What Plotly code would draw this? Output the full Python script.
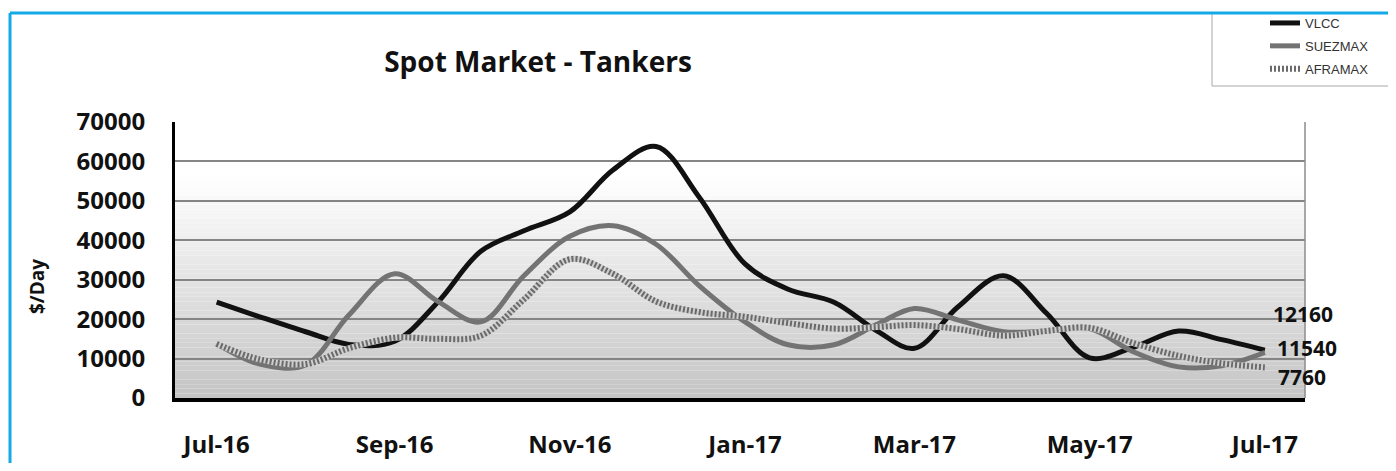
import plotly.graph_objects as go

# ---- data (semi-monthly observations, $/day) ----
DATES = [
    "2016-07-01", "2016-07-16", "2016-08-01", "2016-08-16", "2016-09-01", "2016-09-16",
    "2016-10-01", "2016-10-16", "2016-11-01", "2016-11-16", "2016-12-01", "2016-12-16",
    "2017-01-01", "2017-01-16", "2017-02-01", "2017-02-16", "2017-03-01", "2017-03-16",
    "2017-04-01", "2017-04-16", "2017-05-01", "2017-05-16", "2017-06-01", "2017-06-16",
    "2017-07-01",
]
VLCC = [24300, 20600, 16800, 13600, 14400, 24300, 37200, 42400, 47200, 57800, 63800, 51000,
        34000, 27600, 24300, 17000, 12600, 23000, 31000, 21500, 10200, 12800, 17000, 14800,
        12160]
SUEZMAX = [13800, 8600, 8400, 21000, 31500, 24500, 19300, 31000, 41000, 43700, 39000, 28500,
           19300, 13500, 13500, 18700, 22700, 19800, 16800, 17000, 17600, 11800, 7900, 8200,
           11540]
AFRAMAX = [13700, 9800, 8600, 12600, 15300, 15000, 15800, 25000, 35200, 31500, 24500, 21800,
           20600, 19000, 17600, 18000, 18500, 17500, 15800, 17000, 17800, 14000, 10700, 8800,
           7760]
TICK_DATES = ["2016-07-01", "2016-09-01", "2016-11-01", "2017-01-01", "2017-03-01",
              "2017-05-01", "2017-07-01"]
TICK_LABELS = ["Jul-16", "Sep-16", "Nov-16", "Jan-17", "Mar-17", "May-17", "Jul-17"]
Y_TICKS = [0, 10000, 20000, 30000, 40000, 50000, 60000, 70000]

OFF = 8  # page body margin
W, H = 1396 - 2 * OFF, 471 - 2 * OFF
PL, PR, PT, PB = 175 - OFF, 1305 - OFF, 122 - OFF, 398 - OFF  # plot box in figure px
ML, MR, MT, MB = PL, W - PR, PT, H - PB
PW, PH = PR - PL, PB - PT


def px_x(p):  # page px -> paper
    return (p - OFF - PL) / PW


def px_y(p):
    return (PB - (p - OFF)) / PH


fig = go.Figure()

fig.add_trace(go.Scatter(
    x=DATES, y=VLCC, name="VLCC", mode="lines", legendgroup="a",
    line=dict(color="#111111", width=5, shape="spline", smoothing=1.0),
))
fig.add_trace(go.Scatter(
    x=DATES, y=SUEZMAX, name="SUEZMAX", mode="lines", legendgroup="b",
    line=dict(color="#737373", width=5, shape="spline", smoothing=1.0),
))
fig.add_trace(go.Scatter(
    x=DATES, y=AFRAMAX, name="AFRAMAX_base", mode="lines", showlegend=False,
    line=dict(color="#cfcfcf", width=6, shape="spline", smoothing=1.0), hoverinfo="skip",
))
fig.add_trace(go.Scatter(
    x=DATES, y=AFRAMAX, name="AFRAMAX", mode="lines", legendgroup="c",
    line=dict(color="#6a6a6a", width=6, shape="spline", smoothing=1.0, dash="2px,2px"),
))

shapes = []
# gradient plot background
N = 60
for i in range(N):
    t0, t1 = i / N, (i + 1) / N
    tm = (t0 + t1) / 2
    g = int(round(196 + 59 * min(1.0, tm / 0.8)))
    shapes.append(dict(type="rect", xref="paper", yref="paper", x0=0, x1=1, y0=t0, y1=t1,
                       fillcolor=f"rgb({g},{g},{g})", line=dict(width=0), layer="below"))
# right edge of plot
shapes.append(dict(type="line", xref="paper", yref="paper", x0=1, x1=1, y0=0, y1=1,
                   line=dict(color="#8c8c8c", width=1.5)))
# legend box
shapes.append(dict(type="rect", xref="paper", yref="paper",
                   x0=px_x(1212), x1=px_x(1402), y0=px_y(86), y1=px_y(13),
                   fillcolor="white", line=dict(color="#a8a8a8", width=1)))
# cyan frame (left + top)
shapes.append(dict(type="line", xref="paper", yref="paper",
                   x0=px_x(10), x1=px_x(10), y0=px_y(480), y1=px_y(13),
                   line=dict(color="#13aae6", width=3)))
shapes.append(dict(type="line", xref="paper", yref="paper",
                   x0=px_x(10), x1=px_x(1402), y0=px_y(13), y1=px_y(13),
                   line=dict(color="#13aae6", width=3)))

annotations = [
    dict(text="$/Day", xref="paper", yref="paper", x=px_x(37), y=px_y(287),
         textangle=-90, showarrow=False, xanchor="center", yanchor="middle",
         font=dict(family="Open Sans", size=19, color="#111111", weight="bold")),
]
label_shifts = [(VLCC, 6, 36), (SUEZMAX, 10, 5), (AFRAMAX, 11, -10)]
for series, xs, ys in label_shifts:
    annotations.append(dict(
        text=f"{series[-1]}", x=DATES[-1], y=series[-1], xref="x", yref="y",
        showarrow=False, xanchor="left", yanchor="middle", xshift=xs, yshift=ys,
        font=dict(family="Open Sans", size=21, color="#111111", weight="bold"),
    ))

fig.update_layout(
    width=W, height=H,
    margin=dict(l=ML, r=MR, t=MT, b=MB, pad=0, autoexpand=False),
    paper_bgcolor="white", plot_bgcolor="white",
    title=dict(text="Spot Market - Tankers", x=(538 - OFF) / W, xref="container",
               xanchor="center", y=1 - (62 - OFF) / H, yref="container", yanchor="middle",
               font=dict(family="Open Sans", size=28, color="#111111", weight="bold")),
    xaxis=dict(
        type="date", range=["2016-06-16 12:00", "2017-07-15"],
        tickmode="array", tickvals=TICK_DATES, ticktext=TICK_LABELS,
        showgrid=False, zeroline=False,
        showline=True, linecolor="#000000", linewidth=4,
        ticks="", ticklabelstandoff=22,
        tickfont=dict(family="Open Sans", size=24, color="#111111", weight="bold"),
    ),
    yaxis=dict(
        range=[0, 70000], tickmode="array", tickvals=Y_TICKS,
        ticktext=[str(v) for v in Y_TICKS],
        showgrid=True, gridcolor="#858585", gridwidth=1.6, zeroline=False,
        showline=True, linecolor="#000000", linewidth=3,
        ticks="", ticklabelstandoff=22,
        tickfont=dict(family="Open Sans", size=24, color="#111111", weight="bold"),
    ),
    legend=dict(
        xref="container", yref="container", x=(1305 - 48) / W, y=1.0,
        xanchor="left", yanchor="top", bgcolor="rgba(0,0,0,0)", borderwidth=0,
        font=dict(family="Liberation Sans", size=13, color="#333333"),
        traceorder="grouped", tracegroupgap=3,
    ),
    shapes=shapes,
    annotations=annotations,
    showlegend=True,
)

fig.write_html("out.html")
